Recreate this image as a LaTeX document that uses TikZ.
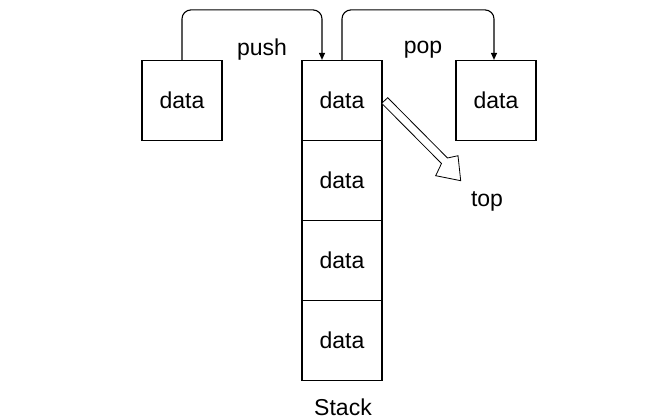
\documentclass[tikz,border=0pt]{standalone}
\usepackage{fontspec}
\setmainfont{Liberation Sans}
\usetikzlibrary{arrows.meta}
\begin{document}
\begin{tikzpicture}[x=1pt,y=-1pt,
  box/.style={draw,line width=1.2pt,minimum width=80pt,minimum height=80pt,inner sep=0pt,font=\fontsize{23}{26}\selectfont},
  lbl/.style={inner sep=0pt,font=\fontsize{23}{26}\selectfont},
  conn/.style={line width=1.1pt,rounded corners=9pt,-{Triangle[length=7pt,width=6pt]}}]
\useasboundingbox (0,0) rectangle (672,419);
\node[box] (L) at (182,100.5) {data};
\node[box] (S1) at (342,100.5) {data};
\node[box] (S2) at (342,180.5) {data};
\node[box] (S3) at (342,260.5) {data};
\node[box] (S4) at (342,340.5) {data};
\node[box] (R) at (496,100.5) {data};
\node[lbl] (push) at (262,50) {push};
\node[lbl] (pop) at (423,50) {pop};
\node[lbl] (top) at (487,201) {top};
\node[lbl] (stack) at (343,407) {Stack};
\coordinate (pa) at ([xshift=-20pt]S1.north);
\coordinate (pb) at (S1.north);
\draw[conn] (L.north) -- ++(0,-50) -| (pa);
\draw[conn] (pb) -- ++(0,-50) -| ([xshift=-2pt]R.north);
\draw[line width=0.8pt,line join=miter,fill=white]
  (381.7,103.3) -- (441.5,163.5) -- (435.7,175.7) -- (460.7,180.7) -- (458,155.7) -- (447.5,158) -- (387.7,97.7) -- cycle;
\end{tikzpicture}
\end{document}
